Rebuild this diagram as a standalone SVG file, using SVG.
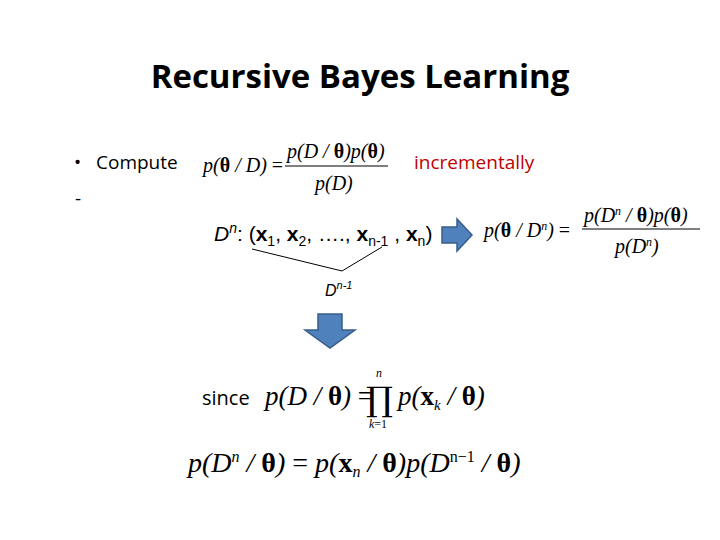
<svg xmlns="http://www.w3.org/2000/svg" width="720" height="540" viewBox="0 0 720 540">
<style>
.s{font-family:"Open Sans","Liberation Sans",sans-serif;font-size:19px;fill:#000}
.a{font-family:"Liberation Sans",sans-serif;font-size:21px;fill:#000}
.m{font-family:"Liberation Serif",serif;font-size:20px;font-style:italic;fill:#000}
.b{font-style:normal;font-weight:bold}
.r{font-style:normal}
.arrow{fill:#4f81bd;stroke:#385d8a;stroke-width:1.5}
</style>
<rect width="720" height="540" fill="#fff"/>
<text x="360" y="88" text-anchor="middle" font-family="'Open Sans','Liberation Sans',sans-serif" font-size="33" font-weight="bold">Recursive Bayes Learning</text>
<g id="bullet1">
<text class="s" x="74" y="169">•</text>
<text class="s" x="96" y="169">Compute</text>
<text class="m" x="203" y="172">p(<tspan class="b">θ</tspan> / D) <tspan class="r">=</tspan></text>
<text class="m" x="287" y="158">p(D / <tspan class="b">θ</tspan>)p(<tspan class="b">θ</tspan>)</text>
<line x1="285" y1="166" x2="388" y2="166" stroke="#000" stroke-width="1.2"/>
<text class="m" x="315" y="190">p(D)</text>
<text class="s" x="414" y="169" style="fill:#c00000">incrementally</text>
</g>
<g id="bullet2">
<text class="s" x="75" y="205">-</text>
<text class="a" x="214" y="241"><tspan font-style="italic">D</tspan><tspan font-size="14" dy="-8" font-style="italic">n</tspan><tspan dy="8">: (</tspan><tspan font-weight="bold">x</tspan><tspan font-size="14" dy="5">1</tspan><tspan dy="-5">, </tspan><tspan font-weight="bold">x</tspan><tspan font-size="14" dy="5">2</tspan><tspan dy="-5">, …., </tspan><tspan font-weight="bold">x</tspan><tspan font-size="14" dy="5">n-1</tspan><tspan dy="-5"> , </tspan><tspan font-weight="bold">x</tspan><tspan font-size="14" dy="5">n</tspan><tspan dy="-5">)</tspan></text>
<text class="a" x="325" y="296" style="font-size:16px" font-style="italic">D<tspan font-size="11" dy="-7">n-1</tspan></text>
</g>
<g id="connectors">
<polyline points="252,249 342,271 382,247" fill="none" stroke="#000" stroke-width="1"/>
<polygon class="arrow" points="442,227 457,227 457,219 472,235 457,251 457,243 442,243"/>
<polygon class="arrow" points="318,314 342,314 342,330 355,330 330,348 305,330 318,330"/>
</g>
<g id="result">
<text class="m" x="484" y="237">p(<tspan class="b">θ</tspan> / D<tspan font-size="12" dy="-7">n</tspan><tspan dy="7">) </tspan><tspan class="r">=</tspan></text>
<text class="m" x="584" y="222">p(D<tspan font-size="12" dy="-7">n</tspan><tspan dy="7"> / </tspan><tspan class="b">θ</tspan>)p(<tspan class="b">θ</tspan>)</text>
<line x1="582" y1="229" x2="700" y2="229" stroke="#000" stroke-width="1.2"/>
<text class="m" x="615" y="253">p(D<tspan font-size="12" dy="-7">n</tspan><tspan dy="7">)</tspan></text>
</g>
<g id="since">
<text class="s" x="202" y="405" style="font-size:20px">since</text>
<text class="m" x="265" y="405" style="font-size:27px">p(D / <tspan class="b">θ</tspan>) <tspan class="r">=</tspan></text>
<text x="366" y="411" font-family="'DejaVu Serif',serif" font-size="34">∏</text>
<text class="m" x="376" y="377" style="font-size:12px">n</text>
<text class="m" x="369" y="428" style="font-size:12px">k<tspan class="r">=1</tspan></text>
<text class="m" x="398" y="405" style="font-size:27px">p(<tspan class="b">x</tspan><tspan style="font-size:15px" dy="5">k</tspan><tspan dy="-5"> / </tspan><tspan class="b">θ</tspan>)</text>
</g>
<g id="recursion">
<text class="m" x="188" y="472" style="font-size:28px">p(D<tspan style="font-size:16px" dy="-10">n</tspan><tspan dy="10"> / </tspan><tspan class="b">θ</tspan>) <tspan class="r">=</tspan> p(<tspan class="b">x</tspan><tspan style="font-size:16px" dy="5">n</tspan><tspan dy="-5"> / </tspan><tspan class="b">θ</tspan>)p(D<tspan style="font-size:16px" dy="-10" class="r">n−1</tspan><tspan dy="10"> / </tspan><tspan class="b">θ</tspan>)</text>
</g>
</svg>
